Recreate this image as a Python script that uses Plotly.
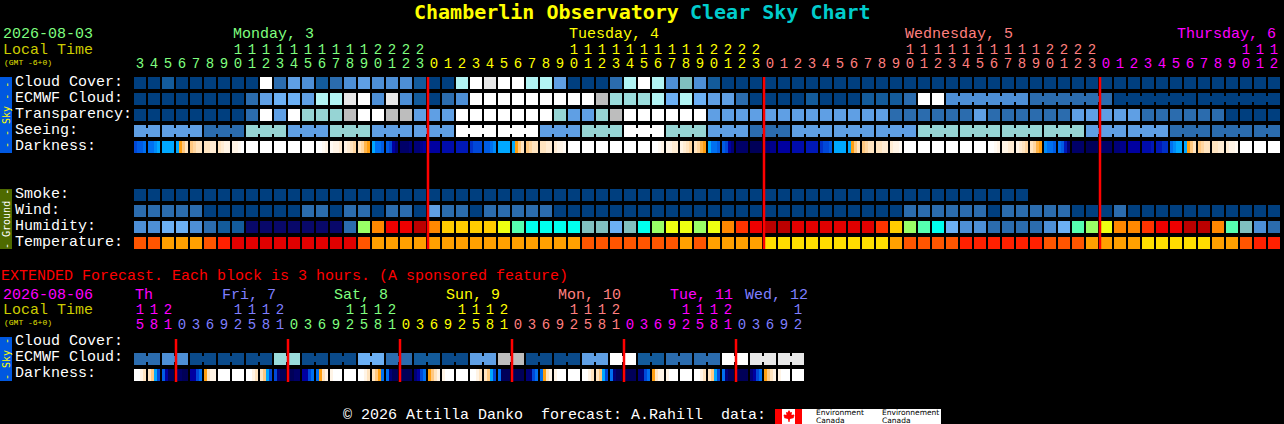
import plotly.graph_objects as go

W, H = 1284, 424
FONT = "Liberation Mono"

# ---------- block colours (index into PALETTE) ----------
PALETTE = ["#003f7f", "#135b9b", "#2b6cae", "#4d8fd6", "#5f9fe4", "#6cb0f4", "#80bfbf", "#96d4d4",
           "#9adcdc", "#b2f4f4", "#bdbdbd", "#e8e8e8", "#ffffff", "#08086a", "#99ff66", "#ff8800",
           "#ee0000", "#bb0000", "#ffcc00", "#eeff11", "#55ffb0", "#00ffee", "#ff3300", "#ff5500",
           "#ffa000", "#ff2000", "#e00000", "#ffdd00", "#0a4a8a"]

# ---------- hourly forecast ----------
HOURS = [3, 4, 5, 6, 7, 8, 9, 10, 11, 12, 13, 14, 15, 16, 17, 18, 19, 20, 21, 22, 23,
         0, 1, 2, 3, 4, 5, 6, 7, 8, 9, 10, 11, 12, 13, 14, 15, 16, 17, 18, 19, 20, 21, 22, 23,
         0, 1, 2, 3, 4, 5, 6, 7, 8, 9, 10, 11, 12, 13, 14, 15, 16, 17, 18, 19, 20, 21, 22, 23,
         0, 1, 2, 3, 4, 5, 6, 7, 8, 9, 10, 11, 12]
HOUR_DAY = [0] * 21 + [1] * 24 + [2] * 24 + [3] * 13
DAY_COLORS = ["#7fff7f", "#ffff00", "#ff7f7f", "#ff00ff"]
DAY_LABELS = ["Monday, 3", "Tuesday, 4", "Wednesday, 5", "Thursday, 6"]
DAY_LABEL_X = [232, 568, 904, 1176]
MIDNIGHT_COLS = [21, 45, 69]

CLOUD = [0, 0, 1, 0, 0, 0, 0, 0, 0, 12, 2, 4, 3, 1, 2, 3, 4, 3, 3, 3, 1,
         0, 0, 9, 12, 11, 12, 12, 9, 9, 4, 0, 0, 0, 2, 9, 12, 9, 3, 6, 3, 1,
         0, 0, 0, 0, 0, 0, 0, 0, 0, 0, 0, 0, 0, 0, 0, 0, 0, 0, 0, 0,
         0, 0, 0, 0, 0, 0, 0, 0, 0, 0, 0, 0, 0, 0, 0, 0, 0, 0, 0, 0]
ECMWF = [0, 0, 0, 0, 0, 0, 0, 0, 2, 4, 5, 5, 4, 9, 9, 11, 12, 3, 11, 3, 1,
         0, 2, 3, 12, 12, 12, 12, 12, 12, 12, 12, 12, 10, 8, 8, 8, 9, 5, 9, 5, 4,
         4, 2, 0, 0, 0, 0, 1, 0, 0, 0, 1, 1, 1, 2, 12, 12,
         3, 3, 3, 3, 3, 3, 2, 2, 2, 2, 2, 2,
         0, 0, 0, 0, 0, 0, 0, 0, 0, 0, 0, 0]
ECMWF_RUNS = [1] * 58 + [6, 6, 6, 6]
TRANSPARENCY = [0, 0, 0, 0, 0, 0, 0, 0, 2, 12, 4, 12, 7, 7, 7, 10, 12, 12, 10, 10, 4,
                4, 4, 12, 12, 12, 12, 12, 12, 12, 7, 4, 4, 7, 10, 12, 12, 12, 12, 12, 12, 4,
                4, 4, 4, 4, 4, 4, 4, 4, 4, 4, 4, 4, 2, 2, 2, 2, 2, 2, 4, 2, 2, 2, 2, 2, 2,
                4, 4, 4, 4, 4, 2, 2, 2, 2, 2, 2, 0, 0, 0, 0]
SEEING_RUNS = [2] + [3] * 26 + [2]
SEEING_VALUES = [4, 4, 2, 7, 4, 7, 4, 4, 12, 12, 4, 7, 12, 7, 4, 2, 4, 4, 4, 7, 7, 7, 7, 4, 4, 2, 2, 2]
SMOKE = [0] * 64 + [None] * 18
WIND = [2, 2, 2, 2, 2, 0, 0, 0, 0, 0, 0, 0, 2, 2, 0, 2, 2, 0, 2, 2, 0,
        4, 2, 2, 0, 2, 2, 2, 2, 2, 0, 0, 0, 0, 0, 0, 0, 0, 0, 0, 0, 0, 0, 0, 0,
        0, 0, 0, 0, 0, 0, 0, 0, 0, 0, 2, 2, 2, 2, 2, 2, 0, 2, 2, 2, 2, 2, 0, 0,
        0, 2, 0, 0, 0, 0, 0, 0, 0, 0, 0, 0, 0]
HUMIDITY = [3, 3, 5, 5, 3, 2, 1, 1, 13, 13, 13, 13, 13, 13, 13, 2, 14, 15, 16, 16, 17,
            15, 18, 18, 18, 18, 19, 20, 21, 21, 21, 21, 6, 6, 5, 6, 21, 14, 19, 19, 14, 19, 15, 22, 16,
            17, 17, 26, 26, 26, 26, 26, 26, 22, 18, 14, 20, 21, 5, 3, 3, 2, 2, 2, 2, 3, 5, 20, 14,
            19, 15, 15, 22, 16, 16, 17, 17, 15, 20, 6, 3, 2]
TEMPERATURE = [23, 23, 24, 24, 24, 23, 25, 26, 26, 26, 26, 26, 26, 26, 26, 26, 23, 24, 24, 24, 24,
               24, 24, 24, 24, 24, 24, 24, 24, 24, 24, 24, 23, 23, 23, 23, 23, 23, 23, 24, 23, 24, 24, 24, 24,
               27, 27, 27, 27, 27, 27, 27, 27, 27, 24, 23, 23, 23, 23, 25, 25, 25, 25, 25, 25, 23, 23, 23, 24,
               24, 24, 24, 27, 27, 27, 27, 27, 24, 24, 23, 25, 25]

# Darkness: 4 readings across each hour block (0 daylight ... 11 darkest night)
DARK_COLORS = ["#ffffff", "#fff4e6", "#ffe4c0", "#ffc880", "#ff9f10", "#00a8ff",
               "#0070f0", "#0048d8", "#0018b8", "#0000a0", "#000078", "#000058"]
DARKNESS = [
    [7, 6.5, 6.5, 6], [6, 6, 5.5, 5], [5, 5, 5, 5], [5, 4, 3, 2], [3, 2.5, 2, 2], [2, 2, 1.5, 1.5],
    [2, 1.5, 1, 1], [1, 1, 0.5, 0], [0, 0, 0, 0], [0, 0, 0, 0], [0, 0, 0, 0], [0, 0, 0, 0], [0, 0, 0, 0],
    [0, 0, 0.5, 1], [0.5, 1, 1, 1.5], [1, 1.5, 2, 2.5], [2, 2.5, 3.5, 4], [5, 6, 6, 6.5], [6.5, 7, 9, 10],
    [10.5, 10.5, 10.5, 10], [10, 10, 9.5, 9],
    [9, 9, 9, 9], [8.5, 8.5, 8.5, 8.5], [8, 8, 8, 8], [7.5, 7, 7, 7], [6.5, 6.5, 6, 5.5], [5, 5, 5, 5],
    [5, 4, 3, 2], [3, 2.5, 2, 2], [2, 2, 1.5, 1.5], [1.5, 1, 1, 0.5], [0, 0, 0, 0], [0, 0, 0, 0], [0, 0, 0, 0],
    [0, 0, 0, 0], [0, 0, 0, 0], [0, 0, 0, 0], [0, 0, 0.5, 1], [1, 1, 1.5, 1.5], [1, 1.5, 2, 2.5],
    [2, 2.5, 3.5, 4], [5, 6, 6, 6.5], [6.5, 7, 9, 10], [10.5, 10.5, 10.5, 10.5], [11, 11, 11, 11],
    [10, 10, 9.5, 9.5], [9, 9, 9, 9], [8.5, 8.5, 8.5, 8.5], [8, 8, 8, 8], [7.5, 7, 7, 6.5], [5, 5, 5, 5],
    [5, 4, 3, 2], [3, 2.5, 2, 2], [2, 2, 1.5, 1.5], [1.5, 1, 1, 0.5], [0, 0, 0, 0], [0, 0, 0, 0], [0, 0, 0, 0],
    [0, 0, 0, 0], [0, 0, 0, 0], [0, 0, 0, 0], [0, 0, 0.5, 1], [1, 1, 1.5, 1.5], [1, 1.5, 2, 2.5],
    [2, 2.5, 3.5, 4], [5.5, 6, 6, 6.5], [6, 6.5, 8, 10], [10.5, 10.5, 10.5, 10.5], [11, 11, 11, 11],
    [10.5, 10.5, 10.5, 10.5], [10, 10, 9.5, 9.5], [9, 9, 9, 9], [8.5, 8.5, 8.5, 8], [8, 8, 7.5, 7.5],
    [6, 5.5, 5, 5], [5, 4, 3, 2], [3, 2.5, 2, 2], [2, 2, 1.5, 1.5], [1.5, 1, 1, 0.5], [0, 0, 0, 0],
    [0, 0, 0, 0], [0, 0, 0, 0],
]

# ---------- extended forecast (each column 3 hours) ----------
EXT_HOURS = [15, 18, 21,
             0, 3, 6, 9, 12, 15, 18, 21, 0, 3, 6, 9, 12, 15, 18, 21, 0, 3, 6, 9, 12, 15, 18, 21,
             0, 3, 6, 9, 12, 15, 18, 21, 0, 3, 6, 9, 12, 15, 18, 21, 0, 3, 6, 9, 12]
EXT_DAY = [3] * 3 + [4] * 8 + [0] * 8 + [1] * 8 + [2] * 8 + [3] * 8 + [4] * 5
EXT_COLORS = ["#7fff7f", "#ffff00", "#ff7f7f", "#ff00ff", "#7f7fff"]
EXT_LABELS = ["Th", "Fri, 7", "Sat, 8", "Sun, 9", "Mon, 10", "Tue, 11", "Wed, 12"]
EXT_LABEL_X = [134, 221, 333, 445, 557, 669, 744]
EXT_LABEL_COLOR = [3, 4, 0, 1, 2, 3, 4]
EXT_MIDNIGHT_COLS = [3, 11, 19, 27, 35, 43]
EXT_ECMWF_BLOCKS = [2, 3, 28, 28, 28, 8, 28, 28, 5, 2, 1, 28, 4, 10, 28, 28, 4, 12, 1, 2, 2, 12, 11, 11]
EXT_DARKNESS = [
    [0, 0, 1, 2], [2, 3, 5, 7], [6.5, 9, 11, 11], [10.5, 10.5, 11, 11], [9, 9, 7, 6], [4, 2, 1, 1],
    [0, 0, 0, 0], [0, 0, 0, 0], [0, 0, 1, 2], [2, 3, 5, 7], [7, 10, 11, 11], [11, 11, 10.5, 10.5],
    [9, 9, 7, 6], [6, 4, 2, 1], [1, 0, 0, 0], [0, 0, 0, 0], [0, 0, 1, 2], [2, 3, 4, 6], [6, 10, 11, 11],
    [11, 11, 11, 11], [10, 9, 7, 6], [4, 3, 2, 1], [1, 0, 0, 0], [0, 0, 0, 0], [0, 0, 1, 2], [2, 3, 5, 7],
    [6, 11, 11, 11], [11, 11, 11, 11], [10, 10, 7, 6], [6, 4, 2, 1], [1, 0, 0, 0], [0, 0, 0, 0], [0, 0, 1, 2],
    [2, 3, 5, 7], [6, 10, 11, 11], [11, 11, 11, 11], [10, 10, 7, 6], [4, 2, 1, 1], [1, 0, 0, 0], [0, 0, 0, 0],
    [0, 0, 1, 2], [2, 3, 5, 7], [6, 10, 11, 11], [11, 11, 11, 11], [10, 9, 7, 6], [4, 3, 2, 1], [1, 0, 0, 0],
    [0, 0, 0, 0],
]

# ---------- row numbers on the y axis ----------
ROWS_SKY = [0, 1, 2, 3]
ROW_DARK = 4
ROWS_GROUND = [7, 8, 9, 10]
ROW_EXT_ECMWF = 17.25
ROW_EXT_DARK = 18.25

# ---------- pixel layout of the axes: column c is centred on 140+14c, row r on 83+16r ----------
X_RANGE = [-140 / 14, (W - 140) / 14]
Y_RANGE = [(H - 83) / 16, -83 / 16]
colorscale = [[i / (len(PALETTE) - 1), c] for i, c in enumerate(PALETTE)]
dark_scale = [[i / (len(DARK_COLORS) - 1), c] for i, c in enumerate(DARK_COLORS)]


def expand(values, runs):
    out = []
    for v, n in zip(values, runs):
        out += [v] * n
    return out


SEEING = expand(SEEING_VALUES, SEEING_RUNS)
EXT_RUNS = [2] * len(EXT_ECMWF_BLOCKS)
EXT_ECMWF = expand(EXT_ECMWF_BLOCKS, EXT_RUNS)

fig = go.Figure()


def blocks(rows, y):
    fig.add_trace(go.Heatmap(z=rows, x=list(range(len(rows[0]))), y=y, xgap=2, ygap=4, zmin=0,
                             zmax=len(PALETTE) - 1, colorscale=colorscale, showscale=False,
                             hoverinfo="skip"))


def darkness(samples, row):
    edges, z = [], []
    for c, s in enumerate(samples):
        for k, v in enumerate(s):
            edges.append(c + (-6 + 3 * k) / 14)
            z.append(v)
        edges.append(c + 6 / 14)
        z.append(None)
    edges.append(len(samples) - 1 + 8 / 14)
    fig.add_trace(go.Heatmap(z=[z], x=edges, y=[row - 6 / 16, row + 6 / 16], zmin=0,
                             zmax=len(DARK_COLORS) - 1, colorscale=dark_scale, showscale=False,
                             hoverinfo="skip"))


def bridges(values, runs, row):
    """Joined blocks: a narrow strip links the columns of one run."""
    start = 0
    for v, n in zip(values, runs):
        if n > 1:
            fig.add_trace(go.Scatter(x=[start, start + n - 1], y=[row, row], mode="lines",
                                     line=dict(color=PALETTE[v], width=6), hoverinfo="skip",
                                     showlegend=False))
        start += n


blocks([CLOUD, ECMWF, TRANSPARENCY, SEEING], ROWS_SKY)
blocks([SMOKE, WIND, HUMIDITY, TEMPERATURE], ROWS_GROUND)
fig.add_trace(go.Heatmap(z=[EXT_ECMWF], x=list(range(len(EXT_ECMWF))), y=[ROW_EXT_ECMWF - 0.5, ROW_EXT_ECMWF + 0.5],
                         xgap=2, ygap=4, zmin=0, zmax=len(PALETTE) - 1, colorscale=colorscale,
                         showscale=False, hoverinfo="skip"))
darkness(DARKNESS, ROW_DARK)
darkness(EXT_DARKNESS, ROW_EXT_DARK)
bridges(SEEING_VALUES, SEEING_RUNS, ROWS_SKY[3])
bridges(ECMWF[:58] + [3, 2, 0, 0], ECMWF_RUNS, ROWS_SKY[1])
bridges(EXT_ECMWF_BLOCKS, EXT_RUNS, ROW_EXT_ECMWF)

# midnight lines
for cols, top, bottom in [(MIDNIGHT_COLS, -0.375, 10.375), (EXT_MIDNIGHT_COLS, 16.0, 18.6875)]:
    xs, ys = [], []
    for c in cols:
        xs += [c - 0.5 + 1 / 14] * 2 + [None]
        ys += [top, bottom, None]
    fig.add_trace(go.Scatter(x=xs, y=ys, mode="lines", line=dict(color="#ff0000", width=2.5),
                             hoverinfo="skip", showlegend=False))


def hour_labels(hours, days, colors, unit_row, tens_row):
    cols = list(range(len(hours)))
    fig.add_trace(go.Scatter(x=cols, y=[unit_row] * len(cols), mode="text",
                             text=[str(h % 10) for h in hours],
                             textfont=dict(family=FONT, size=14, color=[colors[d] for d in days]),
                             textposition="middle center", hoverinfo="skip", showlegend=False))
    tc = [c for c in cols if hours[c] >= 10]
    fig.add_trace(go.Scatter(x=tc, y=[tens_row] * len(tc), mode="text",
                             text=[str(hours[c] // 10) for c in tc],
                             textfont=dict(family=FONT, size=14, color=[colors[days[c]] for c in tc]),
                             textposition="middle center", hoverinfo="skip", showlegend=False))


hour_labels(HOURS, HOUR_DAY, DAY_COLORS, (64 - 83) / 16, (50 - 83) / 16)
hour_labels(EXT_HOURS, EXT_DAY, EXT_COLORS, (325 - 83) / 16, (310 - 83) / 16)


# ---------- page furniture, placed in page pixels ----------
def px(x):
    return x / W


def py(y):
    return 1 - y / H


anns = []


def note(text, x, y, size=15, color="#ffffff", anchor="left", bold=False, family=FONT, angle=0):
    text = text.replace(" ", "\u00a0")
    if bold:
        text = "<b>" + text + "</b>"
    anns.append(dict(text=text, x=px(x), y=py(y), xref="paper", yref="paper", xanchor=anchor,
                     yanchor="middle", showarrow=False, textangle=angle, borderpad=0,
                     font=dict(family=family, size=size, color=color)))


note("Chamberlin Observatory", 413, 12, 20, "#ffff00", bold=True, family="DejaVu Sans Mono")
note("Clear Sky Chart", 689, 12, 20, "#00cccc", bold=True, family="DejaVu Sans Mono")
note("2026-08-03", 2, 35, color="#7fff7f")
note("Local Time", 2, 50, color="#cccc00")
note("(GMT -6+0)", 3, 62, 8, "#e0e000")
for lab, x, col in zip(DAY_LABELS, DAY_LABEL_X, DAY_COLORS):
    note(lab, x, 35, color=col)
for lab, r in [("Cloud Cover:", 0), ("ECMWF Cloud:", 1), ("Transparency:", 2), ("Seeing:", 3), ("Darkness:", 4),
               ("Smoke:", 7), ("Wind:", 8), ("Humidity:", 9), ("Temperature:", 10)]:
    note(lab, 14, 83 + 16 * r - 0.5)
note("EXTENDED Forecast. Each block is 3 hours. (A sponsored feature)", 0, 276, color="#ff0000")
note("2026-08-06", 2, 295, color="#ff00ff")
note("Local Time", 2, 310, color="#cccc00")
note("(GMT -6+0)", 3, 322, 8, "#e0e000")
for lab, x, ci in zip(EXT_LABELS, EXT_LABEL_X, EXT_LABEL_COLOR):
    note(lab, x, 295, color=EXT_COLORS[ci])
for lab, y in [("Cloud Cover:", 341), ("ECMWF Cloud:", 357), ("Darkness:", 373)]:
    note(lab, 14, y)
note("- - Sky - -", 6, 115, 10, "#ffff00", "center", angle=-90, family="DejaVu Sans Mono")
note("- Ground -", 6, 219, 10, "#ffffff", "center", angle=-90, family="DejaVu Sans Mono")
note("- Sky -", 6, 359, 10, "#ffff00", "center", angle=-90, family="DejaVu Sans Mono")
note("© 2026 Attilla Danko  forecast: A.Rahill  data:", 342, 415)
note("Environment", 815, 412, 7.5, "#000000", family="DejaVu Sans")
note("Canada", 815, 420.8, 7.5, "#000000", family="DejaVu Sans")
note("Environnement", 881, 412, 7.5, "#000000", family="DejaVu Sans")
note("Canada", 881, 420.8, 7.5, "#000000", family="DejaVu Sans")


def rect(x0, y0, x1, y1, color):
    return dict(type="rect", xref="paper", yref="paper", x0=px(x0), x1=px(x1), y0=py(y0), y1=py(y1),
                fillcolor=color, line=dict(width=0), layer="below")


leaf = [(789, 410), (790.5, 412.5), (792, 412), (791.5, 415), (794, 414.5), (794.5, 416), (793.5, 417),
        (794, 418), (790, 419), (789.5, 422), (788.5, 422), (788, 419), (784, 418), (784.5, 417),
        (783.5, 416), (784, 414.5), (786.5, 415), (786, 412), (787.5, 412.5)]
leaf_path = "M " + " L ".join(f"{px(x):.5f},{py(y):.5f}" for x, y in leaf) + " Z"
shapes = [rect(0, 77, 12, 153, "#0058e0"), rect(0, 189, 12, 249, "#4e6a00"), rect(0, 337, 12, 381, "#0058e0"),
          rect(802, 409, 941, 424, "#ffffff"), rect(782, 409, 795, 424, "#ffffff"),
          rect(775, 409, 782, 424, "#ff0000"), rect(795, 409, 802, 424, "#ff0000"),
          dict(type="path", xref="paper", yref="paper", path=leaf_path, fillcolor="#ff0000", line=dict(width=0))]

fig.update_layout(width=W, height=H, margin=dict(l=0, r=0, t=0, b=0, pad=0), paper_bgcolor="#000000",
                  plot_bgcolor="#000000", showlegend=False, annotations=anns, shapes=shapes, hovermode=False,
                  xaxis=dict(range=X_RANGE, visible=False, fixedrange=True),
                  yaxis=dict(range=Y_RANGE, visible=False, fixedrange=True))

fig.write_html("out.html", config={"displayModeBar": False},
               post_script="document.body.style.margin='0';document.body.style.background='#000';")
